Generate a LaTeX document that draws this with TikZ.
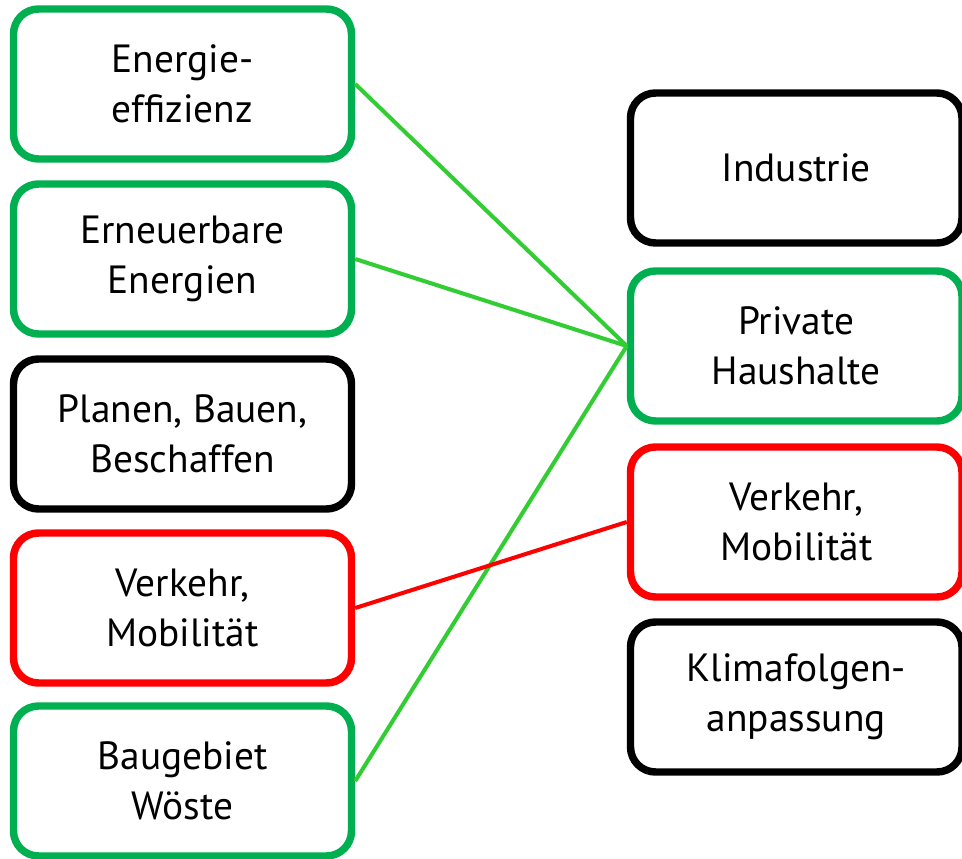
\documentclass[tikz,border=0pt]{standalone}
\usepackage{fontspec}
\setmainfont{PT Sans}
\definecolor{boxgreen}{RGB}{0,176,80}
\definecolor{linkgreen}{RGB}{50,205,50}
\definecolor{boxred}{RGB}{255,0,0}
\begin{document}
\begin{tikzpicture}
	\tikzstyle{every node}=[align=center, font=\fontsize{22.4}{28.3}\selectfont]
	\tikzstyle{field}=[draw, line width=4.25pt, rounded corners=0.5cm, minimum height=3cm]
	\tikzstyle{lfield}=[field, minimum width=6.76cm]
	\tikzstyle{rfield}=[field, minimum width=6.63cm]
	\useasboundingbox (0, 0) rectangle (19.24, 17.16);
	% Handlungsfelder links
	\node[lfield, draw=boxgreen] (EE) at (3.65, 15.48) {Energie-\\effizienz};
	\node[lfield, draw=boxgreen] (EN) at (3.65, 11.98) {Erneuerbare\\Energien};
	\node[lfield] (PB) at (3.65, 8.48) {Planen, Bauen,\\Beschaffen};
	\node[lfield, draw=boxred] (VL) at (3.65, 5.0) {Verkehr,\\Mobilität};
	\node[lfield, draw=boxgreen] (BW) at (3.65, 1.54) {Baugebiet\\Wöste};
	% Sektoren rechts
	\node[rfield] (IN) at (15.925, 13.8) {Industrie};
	\node[rfield, draw=boxgreen] (PH) at (15.925, 10.24) {Private\\Haushalte};
	\node[rfield, draw=boxred] (VR) at (15.925, 6.72) {Verkehr,\\Mobilität};
	\node[rfield] (KA) at (15.925, 3.22) {Klimafolgen-\\anpassung};
	% Verbindungen
	\draw [linkgreen, line width=2.3pt] (EE.east) -- (PH.west);
	\draw [linkgreen, line width=2.3pt] (EN.east) -- (PH.west);
	\draw [linkgreen, line width=2.3pt] (BW.east) -- (PH.west);
	\draw [boxred, line width=2.3pt] (VL.east) -- (VR.west);
\end{tikzpicture}
\end{document}
